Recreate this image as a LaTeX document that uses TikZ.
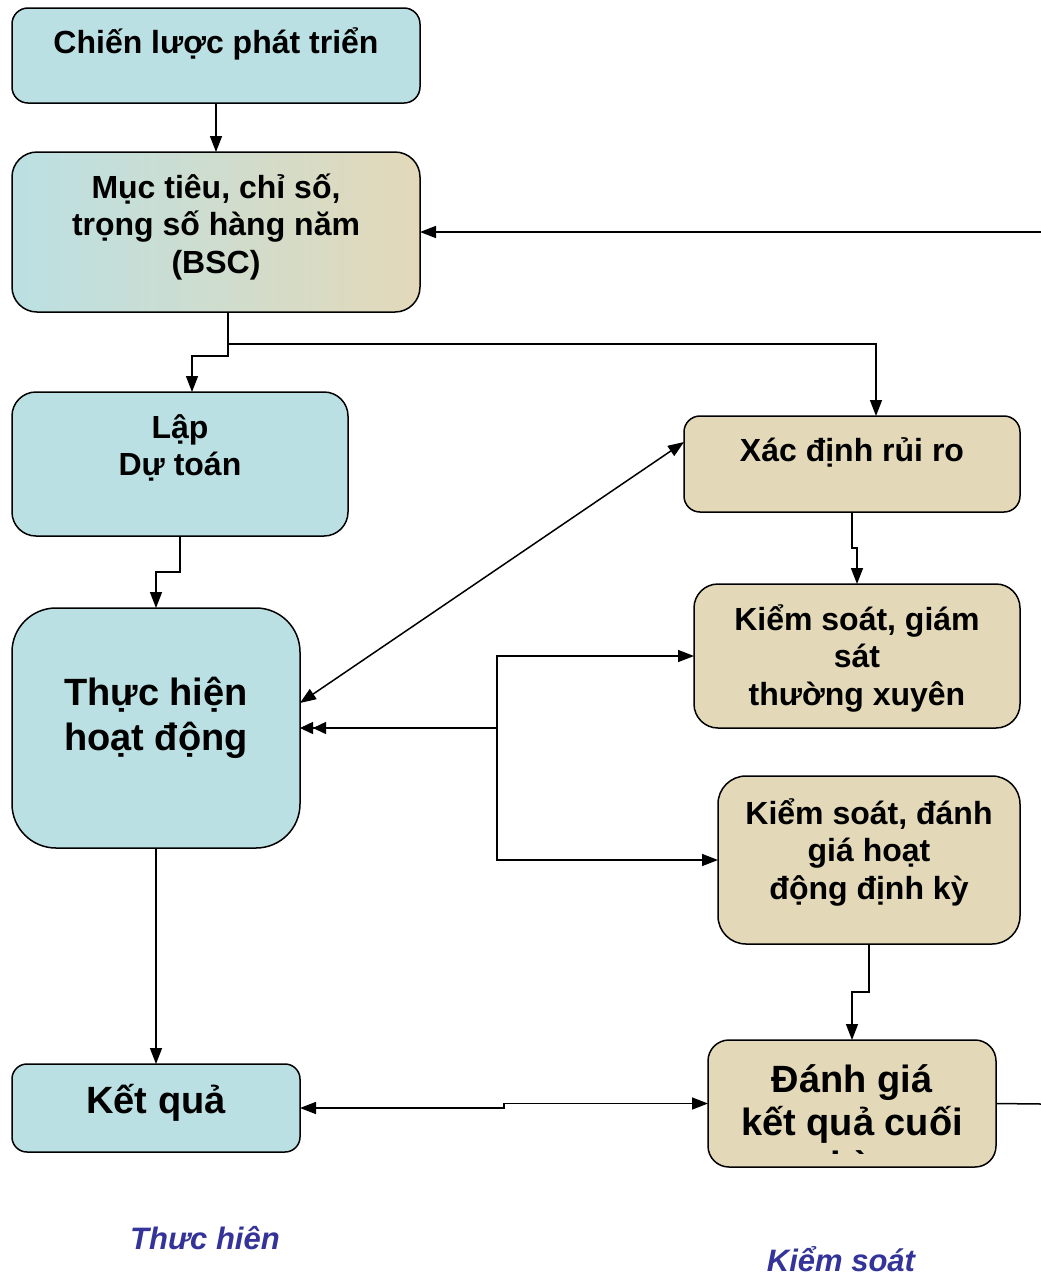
\documentclass[tikz,border=0pt]{standalone}
\usepackage{fontspec}
\setmainfont{Liberation Sans}
\usetikzlibrary{arrows.meta,shadings}
\definecolor{cyanbox}{RGB}{187,224,227}
\definecolor{tanbox}{RGB}{227,217,185}
\definecolor{labelblue}{RGB}{51,51,153}
\begin{document}
\begin{tikzpicture}[x=1pt,y=-1pt,
  box/.style={draw=black,line width=1.5pt,anchor=north west,inner sep=0pt,outer sep=0pt},
  cbox/.style={box,fill=cyanbox},
  tbox/.style={box,fill=tanbox},
  txt/.style={font=\bfseries\fontsize{32}{37.5}\selectfont,align=center,inner sep=0pt},
  bigtxt/.style={font=\bfseries\fontsize{38}{45}\selectfont,align=center,inner sep=0pt},
  lbl/.style={font=\bfseries\itshape\fontsize{31}{36}\selectfont,text=labelblue,inner sep=0pt},
  wire/.style={line width=1.5pt},
  conn/.style={wire,-{Triangle[length=16pt,width=12pt]}},
  both/.style={wire,{Triangle[length=16pt,width=12pt]}-{Triangle[length=16pt,width=12pt]}},
  dbl/.style={wire,-{Triangle[length=13pt,width=12pt]Triangle[length=13pt,width=12pt]}}]
\useasboundingbox (0,0) rectangle (1041,1278);

% boxes
\node[cbox,rounded corners=16pt,minimum width=408pt,minimum height=95pt] (chien) at (12,8) {};
\node[box,left color=cyanbox,right color=tanbox,rounded corners=25pt,minimum width=408pt,minimum height=160pt] (muc) at (12,152) {};
\node[cbox,rounded corners=24pt,minimum width=336pt,minimum height=144pt] (lap) at (12,392) {};
\node[cbox,rounded corners=44pt,minimum width=288pt,minimum height=240pt] (thuc) at (12,608) {};
\node[cbox,rounded corners=15pt,minimum width=288pt,minimum height=88pt] (ket) at (12,1064) {};
\node[tbox,rounded corners=16pt,minimum width=336pt,minimum height=96pt] (xac) at (684,416) {};
\node[tbox,rounded corners=24pt,minimum width=326pt,minimum height=144pt] (ksg) at (694,584) {};
\node[tbox,rounded corners=28pt,minimum width=302pt,minimum height=168pt] (ksd) at (718,776) {};
\node[tbox,rounded corners=21pt,minimum width=288pt,minimum height=127pt] (dg) at (708,1040) {};

% texts
\node[txt] (chien-t) at (216,44) {Chiến lược phát triển};
\node[txt] (muc-t) at (216,227) {Mục tiêu, chỉ số,\\trọng số hàng năm\\(BSC)};
\node[txt] (lap-t) at (180,448) {Lập\\Dự toán};
\node[bigtxt] (thuc-t) at (156,718) {Thực hiện\\hoạt động};
\node[bigtxt] (ket-t) at (156,1103) {Kết quả};
\node[txt] (xac-t) at (852,452) {Xác định rủi ro};
\node[txt] (ksg-t) at (857,658) {Kiểm soát, giám\\sát\\thường xuyên};
\node[txt] (ksd-t) at (869,852) {Kiểm soát, đánh\\giá hoạt\\động định kỳ};
\begin{scope}
  \clip (708,1040) rectangle (996,1153);
  \node[bigtxt,font=\bfseries\fontsize{38}{43}\selectfont] (dg-t) at (852,1125) {Đánh giá\\kết quả cuối\\kỳ};
\end{scope}

% group labels
\node[lbl] (lbl-th) at (205,1238) {Thưc hiên};
\node[lbl] (lbl-ks) at (841,1259) {Kiểm soát};

% connectors
\coordinate (split) at (228,344);
\coordinate (hub) at (497,728);
\coordinate (kstep) at (504,0);
\coordinate (rin) at (1041,232);
\coordinate (rout) at (1041,1104);

\draw[conn] (chien.south) -- (muc.north);
\draw[conn] (rin) -- (muc.east);
\draw[wire] (muc.south -| split) -- (split);
\draw[conn] (split) -| ([xshift=24pt]xac.north);
\draw[conn] (split) -- ++(0,12) -| ([xshift=12pt]lap.north);
\draw[conn] (lap.south) -- ++(0,36) -| (thuc.north);
\draw[conn] (xac.south) -- ++(0,36) -| (ksg.north);
\draw[conn] (ksd.south) -- ++(0,48) -| (dg.north);
\draw[both] ([yshift=22pt]xac.west) -- ([yshift=25pt]thuc.east);
\draw[dbl] (hub) -- (thuc.east);
\draw[conn] (hub) |- (ksg.west);
\draw[conn] (hub) |- (ksd.west);
\draw[conn] (thuc.south) -- (ket.north);
\draw[both] (ket.east) -- (ket.east -| kstep) -- (dg.west -| kstep) -- (dg.west);
\draw[wire] (dg.east) -- (rout);
\end{tikzpicture}
\end{document}
